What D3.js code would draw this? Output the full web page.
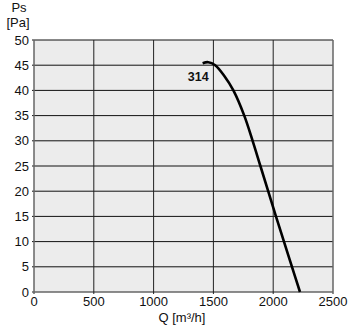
<!DOCTYPE html>
<html><head><meta charset="utf-8">
<script src="https://cdn.jsdelivr.net/npm/d3@7"></script>
<style>body{margin:0;background:#fff}svg{display:block}text{font-family:"Liberation Sans",Arial,sans-serif}</style>
</head><body>
<script>
const flowQ = [1410, 1457, 1515, 1590, 1667, 1758, 1828, 1893, 1958, 2023, 2090, 2157, 2224];
const pressurePs = [45.4, 45.6, 45.0, 42.9, 40.0, 35.0, 30.0, 25.0, 20.0, 15.0, 10.0, 5.0, 0];
const xTicks = [0, 500, 1000, 1500, 2000, 2500];
const yTicks = [0, 5, 10, 15, 20, 25, 30, 35, 40, 45, 50];
const curveLabel = "314";

const W = 355, H = 331;
const m = {l: 34, r: 22, t: 40, b: 39};
const svg = d3.select("body").append("svg").attr("width", W).attr("height", H);
const x = d3.scaleLinear().domain([0, 2500]).range([m.l, W - m.r]);
const y = d3.scaleLinear().domain([0, 50]).range([H - m.b, m.t]);

svg.append("rect").attr("x", x(0)).attr("y", y(50)).attr("width", x(2500) - x(0)).attr("height", y(0) - y(50)).attr("fill", "#ececec");

svg.append("g").selectAll("line").data(yTicks).join("line")
  .attr("x1", x(0) - 2).attr("x2", x(2500)).attr("y1", d => y(d)).attr("y2", d => y(d))
  .attr("stroke", d => d === 0 ? "#666" : "#111").attr("stroke-width", d => d === 0 ? 1.5 : 1);
svg.append("g").selectAll("line").data(xTicks).join("line")
  .attr("x1", d => x(d)).attr("x2", d => x(d)).attr("y1", y(50)).attr("y2", y(0) + 2)
  .attr("stroke", d => (d === 0 || d === 2500) ? "#666" : "#222").attr("stroke-width", d => (d === 0 || d === 2500) ? 1.5 : 1);

svg.append("g").selectAll("text").data(yTicks).join("text")
  .attr("x", x(0) - 5).attr("y", d => y(d)).attr("dy", "0.36em").attr("text-anchor", "end")
  .attr("font-size", 13).attr("fill", "#111").text(d => d);
svg.append("g").selectAll("text").data(xTicks).join("text")
  .attr("x", d => x(d)).attr("y", y(0) + 14).attr("text-anchor", "middle")
  .attr("font-size", 13).attr("fill", "#111").text(d => d);

svg.append("text").attr("x", 19).attr("y", 12).attr("text-anchor", "middle").attr("font-size", 13).attr("fill", "#111").text("Ps");
svg.append("text").attr("x", 18).attr("y", 27).attr("text-anchor", "middle").attr("font-size", 13).attr("fill", "#111").text("[Pa]");
svg.append("text").attr("x", 182).attr("y", 322).attr("text-anchor", "middle").attr("font-size", 13).attr("fill", "#111").text("Q [m³/h]");

const pts = flowQ.map((q, i) => [q, pressurePs[i]]);
svg.append("path").datum(pts)
  .attr("d", d3.line().x(d => x(d[0])).y(d => y(d[1])).curve(d3.curveCatmullRom))
  .attr("fill", "none").attr("stroke", "#000").attr("stroke-width", 2.6);

svg.append("text").attr("x", x(flowQ[0]) + 6).attr("y", y(pressurePs[0]) + 18).attr("text-anchor", "end")
  .attr("font-size", 12.5).attr("font-weight", "bold").attr("fill", "#111").text(curveLabel);
</script>
</body></html>
